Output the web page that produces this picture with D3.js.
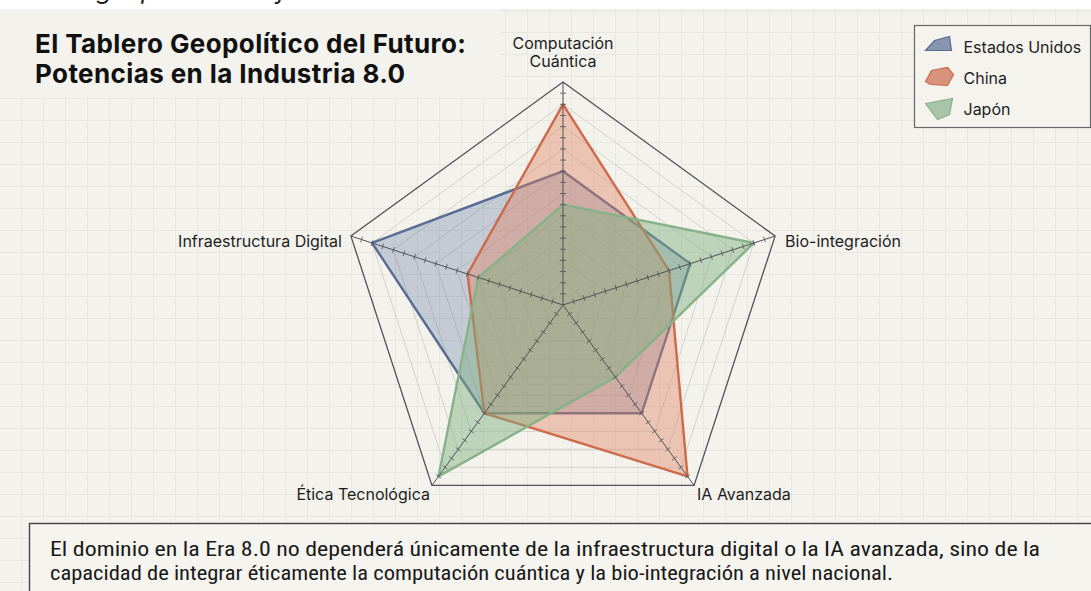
<!DOCTYPE html>
<html>
<head>
<meta charset="utf-8">
<script src="https://cdn.jsdelivr.net/npm/d3@7"></script>
<style>
  body { margin: 0; background: #fff; overflow: hidden; }
  svg { display: block; }
</style>
</head>
<body>
<div id="chart"></div>
<script>
// datos
const axes = ["Computación Cuántica", "Bio-integración", "IA Avanzada", "Ética Tecnológica", "Infraestructura Digital"];
const seriesNames = ["Estados Unidos", "China", "Japón"];
const usaValues   = [60, 60, 60, 60, 90];
const chinaValues = [90, 50, 95, 60, 45];
const japanValues = [45, 90, 40, 95, 40];
const ringLevels  = [10, 20, 30, 40, 50, 60, 70, 80, 90, 100];

const width = 1091, height = 591;
const cx = 563, cy = 305, R = 223;
const colors = {
  "Estados Unidos": { stroke: "#586c93", fill: "rgba(88,112,160,0.30)" },
  "China":          { stroke: "#cc6a4b", fill: "rgba(226,128,96,0.40)" },
  "Japón":          { stroke: "#87b189", fill: "rgba(124,176,126,0.45)" }
};

const svg = d3.select("#chart").append("svg")
  .attr("width", width)
  .attr("height", height);

// fondo
svg.append("rect").attr("width", width).attr("height", height).attr("fill", "#fff");
svg.append("rect").attr("x", 0).attr("y", 9).attr("width", width).attr("height", height - 9).attr("fill", "#f3f2ec");

// cuadrícula de fondo
const grid = svg.append("g").attr("stroke", "#e7e6df").attr("stroke-width", 1);
for (let x = 21; x < width; x += 22) {
  grid.append("line").attr("x1", x + 0.5).attr("x2", x + 0.5).attr("y1", 9).attr("y2", height);
}
for (let y = 10; y < height; y += 22) {
  grid.append("line").attr("x1", 0).attr("x2", width).attr("y1", y + 0.5).attr("y2", y + 0.5);
}
// zona del título sin cuadrícula
svg.append("rect").attr("x", 0).attr("y", 9).attr("width", 500).attr("height", 89).attr("fill", "#f3f2ec");

// texto cortado arriba (solo se ven los trazos inferiores)
svg.append("text")
  .attr("x", -22).attr("y", -1)
  .style("font-family", "Inter, sans-serif")
  .style("font-style", "italic")
  .style("font-size", "25px")
  .attr("fill", "#222")
  .text("El tablero geopolítico del futuro: Potencias en la Industria 8.0");
svg.append("rect").attr("x", 0).attr("y", 9).attr("width", width).attr("height", 1).attr("fill", "#f3f2ec");

// escalas
const r = d3.scaleLinear().domain([0, 100]).range([0, R]);
const angle = d3.scaleLinear().domain([0, axes.length]).range([0, 2 * Math.PI]);
const pt = (i, v) => [cx + r(v) * Math.sin(angle(i)), cy - r(v) * Math.cos(angle(i))];

const radial = d3.lineRadial()
  .angle((d, i) => angle(i))
  .radius(d => r(d))
  .curve(d3.curveLinearClosed);

const plot = svg.append("g").attr("transform", `translate(${cx},${cy})`);

// anillos
plot.append("g")
  .selectAll("path")
  .data(ringLevels)
  .join("path")
  .attr("d", lv => radial(axes.map(() => lv)))
  .attr("fill", "none")
  .attr("stroke", lv => lv === 100 ? "#4f5257" : "#cfcfca")
  .attr("stroke-width", lv => lv === 100 ? 1.3 : 0.9);

// ejes con marcas
const ticks = r.ticks(20).filter(t => t > 0 && t < 100);
axes.forEach((a, i) => {
  const [x2, y2] = pt(i, 100);
  svg.append("line")
    .attr("x1", cx).attr("y1", cy).attr("x2", x2).attr("y2", y2)
    .attr("stroke", "#4f5257").attr("stroke-width", 1);
  const ang = angle(i);
  const nx = Math.cos(ang), ny = Math.sin(ang);
  ticks.forEach(t => {
    const [tx, ty] = pt(i, t);
    svg.append("line")
      .attr("x1", tx - nx * 3).attr("y1", ty - ny * 3)
      .attr("x2", tx + nx * 3).attr("y2", ty + ny * 3)
      .attr("stroke", "#4f5257").attr("stroke-width", 0.8);
  });
});

// series
const seriesValues = [usaValues, chinaValues, japanValues];
plot.append("g")
  .selectAll("path")
  .data(seriesValues)
  .join("path")
  .attr("d", d => radial(d))
  .attr("fill", (d, i) => colors[seriesNames[i]].fill)
  .attr("stroke", (d, i) => colors[seriesNames[i]].stroke)
  .attr("stroke-width", 2.4)
  .attr("stroke-linejoin", "round");

// etiquetas de ejes
const labelStyle = sel => sel
  .style("font-family", "Inter, sans-serif")
  .style("font-size", "16px")
  .attr("fill", "#1e1e1e");

const [tx0, ty0] = pt(0, 100);
const topLabel = svg.append("text").attr("text-anchor", "middle").call(labelStyle);
topLabel.append("tspan").attr("x", tx0).attr("y", ty0 - 33).text("Computación");
topLabel.append("tspan").attr("x", tx0).attr("y", ty0 - 15).text("Cuántica");

const [bx, by] = pt(1, 100);
svg.append("text").attr("x", bx + 10).attr("y", by + 11).call(labelStyle).text(axes[1]);
const [ix, iy] = pt(2, 100);
svg.append("text").attr("x", ix + 3).attr("y", iy + 15).call(labelStyle).text(axes[2]);
const [ex, ey] = pt(3, 100);
svg.append("text").attr("x", ex - 2).attr("y", ey + 15).attr("text-anchor", "end").call(labelStyle).text(axes[3]);
const [dx, dy] = pt(4, 100);
svg.append("text").attr("x", dx - 9).attr("y", dy + 11).attr("text-anchor", "end").call(labelStyle).text(axes[4]);

// título
const title = svg.append("text")
  .style("font-family", "Inter, sans-serif")
  .style("font-weight", "700")
  .style("font-size", "26px")
  .style("letter-spacing", "0.4px")
  .attr("fill", "#111");
title.append("tspan").attr("x", 35).attr("y", 53).text("El Tablero Geopolítico del Futuro:");
title.append("tspan").attr("x", 35).attr("y", 83).text("Potencias en la Industria 8.0");

// leyenda
const iconShapes = [
  [[0, 15], [9, 5], [24, 1], [26, 15]],
  [[0, 15], [6, 4], [22, 1], [28, 8], [22, 19], [5, 18]],
  [[0, 6], [27, 1], [24, 17], [12, 22]]
];
const legend = svg.append("g").attr("transform", "translate(914.5,25.5)");
legend.append("rect")
  .attr("width", 176).attr("height", 102)
  .attr("fill", "#f4f3ee").attr("stroke", "#666").attr("stroke-width", 1.2);
seriesNames.forEach((name, i) => {
  const g = legend.append("g").attr("transform", `translate(11,${10 + i * 31})`);
  g.append("polygon")
    .attr("points", iconShapes[i].map(p => p.join(",")).join(" "))
    .attr("fill", colors[name].stroke)
    .attr("fill-opacity", 0.7)
    .attr("stroke", colors[name].stroke)
    .attr("stroke-width", 1.2);
  g.append("text")
    .attr("x", 38).attr("y", 17)
    .style("font-family", "Inter, sans-serif")
    .style("font-size", "16px")
    .attr("fill", "#1e1e1e")
    .text(name);
});

// caja de conclusión
svg.append("rect")
  .attr("x", 29.5).attr("y", 523.5)
  .attr("width", 1080).attr("height", 100)
  .attr("fill", "#f5f4ef").attr("stroke", "#444").attr("stroke-width", 1.4);
const noteLines = [
  "El dominio en la Era 8.0 no dependerá únicamente de la infraestructura digital o la IA avanzada, sino de la",
  "capacidad de integrar éticamente la computación cuántica y la bio-integración a nivel nacional."
];
const noteWidths = [990, 843];
const note = svg.append("g")
  .style("font-family", "'Liberation Sans Narrow', 'Roboto Condensed', sans-serif")
  .style("font-size", "21px")
  .attr("fill", "#1a1a1a");
noteLines.forEach((t, i) => {
  note.append("text")
    .attr("x", 50).attr("y", 556 + i * 24)
    .attr("textLength", noteWidths[i])
    .attr("lengthAdjust", "spacingAndGlyphs")
    .text(t);
});
</script>
</body>
</html>
